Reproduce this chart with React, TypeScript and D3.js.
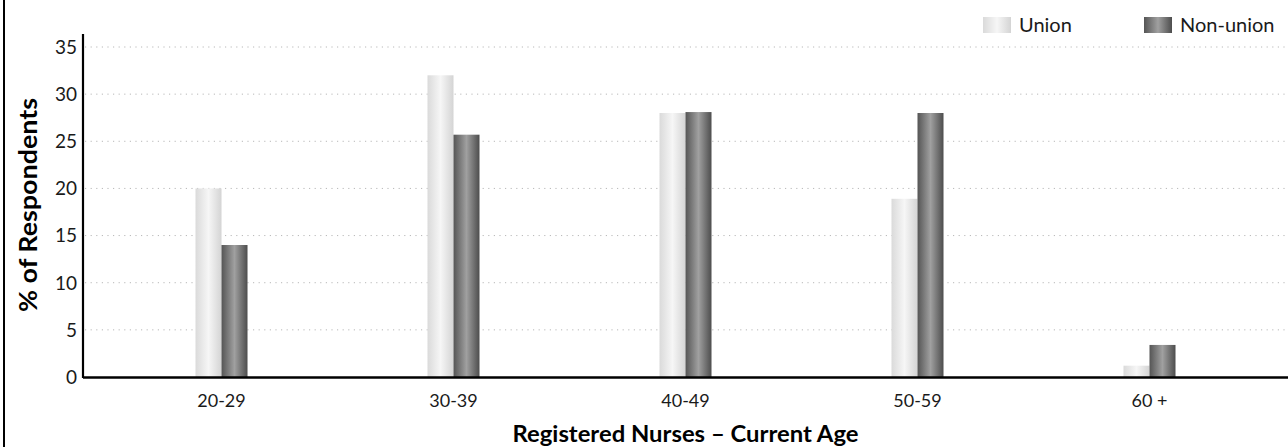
import React from "react";
import * as d3 from "d3";

const categories = ["20-29", "30-39", "40-49", "50-59", "60 +"];
const seriesNames = ["Union", "Non-union"];
const unionValues = [20, 32, 28, 18.9, 1.2];
const nonUnionValues = [14, 25.7, 28.1, 28, 3.4];
const yTicks = [0, 5, 10, 15, 20, 25, 30, 35];

const W = 1288;
const H = 447;
const FONT = "Lato, 'Open Sans', sans-serif";

export default function App() {
  const left = 83;
  const right = 1288;
  const y = d3.scaleLinear().domain([0, 35]).range([377, 47]);
  const x = d3.scalePoint<string>().domain(categories).range([left, right]).padding(0.597);
  const x1 = d3.scaleBand<string>().domain(seriesNames).range([-26, 26]).padding(0);
  const data = [unionValues, nonUnionValues];
  const grads = ["gUnion", "gNon"];

  return (
    <div style={{ position: "absolute", left: 0, top: 0, width: W, height: H, overflow: "hidden" }}>
      <svg width={W} height={H} style={{ display: "block", background: "#fff" }}>
        <defs>
          <linearGradient id="gUnion" x1="0" x2="1" y1="0" y2="0">
            <stop offset="0" stopColor="#dadada" />
            <stop offset="0.5" stopColor="#f6f6f6" />
            <stop offset="1" stopColor="#d4d4d4" />
          </linearGradient>
          <linearGradient id="gNon" x1="0" x2="1" y1="0" y2="0">
            <stop offset="0" stopColor="#555555" />
            <stop offset="0.5" stopColor="#a0a0a0" />
            <stop offset="1" stopColor="#4d4d4d" />
          </linearGradient>
        </defs>
        {/* left border */}
        <line x1={4} x2={4} y1={0} y2={H} stroke="#000" strokeWidth={2} />
        {/* gridlines */}
        {yTicks.filter((t) => t > 0).map((t) => (
          <line key={"g" + t} x1={left + 2} x2={right} y1={y(t)} y2={y(t)} stroke="#b8b8b8" strokeWidth={1} strokeDasharray="1.2,4.4" />
        ))}
        {/* bars */}
        {categories.map((c, i) => (
          <g key={c} transform={`translate(${x(c)},0)`}>
            {seriesNames.map((s, j) => (
              <rect key={s} x={x1(s)!} width={x1.bandwidth()} y={y(data[j][i])} height={y(0) - y(data[j][i])} fill={`url(#${grads[j]})`} />
            ))}
          </g>
        ))}
        {/* axes */}
        <line x1={left} x2={left} y1={34} y2={378} stroke="#000" strokeWidth={2.2} />
        <line x1={left} x2={right} y1={y(0) + 0.5} y2={y(0) + 0.5} stroke="#000" strokeWidth={2.5} />
        {yTicks.map((t) => (
          <text key={"t" + t} x={77} y={y(t)} dy="0.36em" textAnchor="end" fontFamily={FONT} fontWeight={400} fontSize={19} fill="#1a1a1a">{t}</text>
        ))}
        {categories.map((c) => (
          <text key={"x" + c} x={x(c)} y={407} textAnchor="middle" fontFamily={FONT} fontWeight={400} fontSize={18} fill="#1a1a1a">{c}</text>
        ))}
        <text x={(left + right) / 2} y={442} textAnchor="middle" fontFamily={FONT} fontWeight={700} fontSize={23} fill="#000" textLength={346} lengthAdjust="spacingAndGlyphs">Registered Nurses – Current Age</text>
        <text transform={`translate(37,${205}) rotate(-90)`} textAnchor="middle" fontFamily={FONT} fontWeight={700} fontSize={25} fill="#000" textLength={214} lengthAdjust="spacingAndGlyphs">% of Respondents</text>
        {/* legend */}
        {seriesNames.map((s, j) => {
          const lx = [983, 1144][j];
          return (
            <g key={"l" + s}>
              <rect x={lx} y={17} width={28} height={16} fill={`url(#${grads[j]})`} />
              <text x={lx + 36} y={32} fontFamily={FONT} fontWeight={400} fontSize={20} fill="#1a1a1a">{s}</text>
            </g>
          );
        })}
      </svg>
    </div>
  );
}
